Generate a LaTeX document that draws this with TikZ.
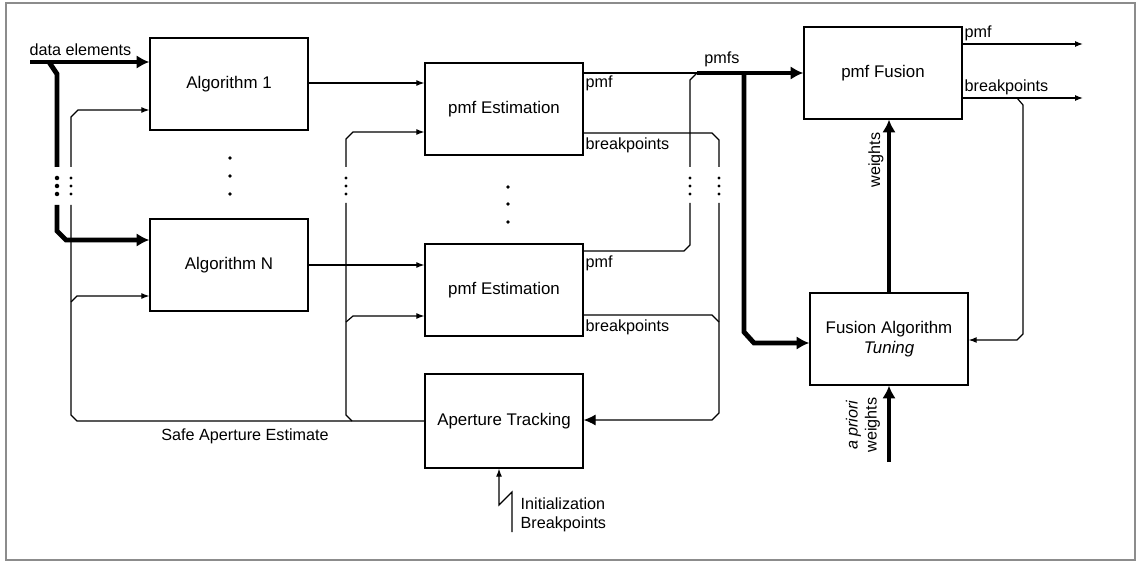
\documentclass[tikz,border=0pt]{standalone}
\usepackage{fontspec}
\setmainfont{Liberation Sans}
\usetikzlibrary{arrows.meta,calc}
\tikzset{
blk/.style={draw=black,line width=0.9pt,minimum width=3.95cm,minimum height=2.3cm,inner sep=2pt,align=center,font=\fontsize{12}{14.5}\selectfont},
sig/.style={draw=black,line width=0.85pt},
sigarr/.style={sig,-{Latex[length=2mm,width=1.5mm]}},
bigarr/.style={sig,-{Latex[length=3mm,width=2.8mm]}},
bus/.style={draw=black,line width=3.5pt},
busarr/.style={bus,-{Latex[length=3.2mm,width=3.4mm]}},
lbl/.style={font=\fontsize{11.5}{13.5}\selectfont,inner sep=1pt},
frame/.style={draw=black!45,line width=1pt}
}
\newcommand{\gapdots}[2]{\foreach \yy in {178,186,194} \fill (#1,\yy) circle (#2);}

\begin{document}
\begin{tikzpicture}[x=0.025cm,y=-0.025cm]
\useasboundingbox (0,0) rectangle (1141,563);
\draw[frame] (6,3) rectangle (1135,560);

% blocks
\node[blk] (alg1) at (229,84) {Algorithm 1};
\node[blk] (algN) at (229,265) {Algorithm N};
\node[blk] (est1) at (504,109) {pmf Estimation};
\node[blk] (est2) at (504,290) {pmf Estimation};
\node[blk,minimum height=2.35cm] (track) at (504,421) {Aperture Tracking};
\node[blk] (fusion) at (883,73) {pmf Fusion};
\node[blk] (tuning) at (889,339) {Fusion Algorithm\\\textit{Tuning}};

% data elements bus
\coordinate (din) at (30,62);
\node[lbl,anchor=west] (dlab) at (28,50) {data elements};
\draw[busarr] (din) -- (din -| alg1.west);
\draw[bus] (49,62) -- (57,74) -- (57,167);
\draw[busarr] (57,205) -- (57,231) -- (66,240) -- (algN.west |- 0,240);
\gapdots{57}{1.6pt}

% safe aperture estimate feedback
\draw[sig] (track.west) -- (77,421) -- (71,415) -- (71,205);
\draw[sigarr] (71,167) -- (71,117) -- (78,110) -- (alg1.west |- 0,110);
\draw[sigarr] (71,302) -- (77,296) -- (algN.west |- 0,296);
\gapdots{71}{1.2pt}
\draw[sig] (352,421) -- (346,415) -- (346,203);
\draw[sigarr] (346,167) -- (346,139) -- (353,132) -- (est1.west |- 0,132);
\draw[sigarr] (346,322) -- (353,316) -- (est2.west |- 0,316);
\gapdots{346}{1.2pt}
\node[lbl] (safe) at (245,436) {Safe Aperture Estimate};

% algorithms to estimators
\draw[sigarr] (alg1.east |- 0,83) -- (est1.west |- 0,83);
\draw[sigarr] (algN.east |- 0,265) -- (est2.west |- 0,265);
\foreach \yy in {158,176,194} \fill (230,\yy) circle (1.4pt);
\foreach \yy in {187,204,222} \fill (508,\yy) circle (1.4pt);

% pmf outputs
\draw[sig] (est1.east |- 0,73) -- (697,73);
\draw[sig] (est2.east |- 0,251) -- (684,251) -- (690,245) -- (690,203);
\draw[sig] (690,167) -- (690,80) -- (697,73);
\gapdots{690}{1.2pt}
\node[lbl,anchor=west] (p1) at (584,83) {pmf};
\node[lbl,anchor=west] (p2) at (584,263) {pmf};

% breakpoints outputs
\draw[sig] (est1.east |- 0,133) -- (712,133) -- (719,140) -- (719,167);
\draw[sig] (est2.east |- 0,315) -- (712,315) -- (719,322);
\draw[bigarr] (719,203) -- (719,413) -- (712,420) -- (track.east |- 0,420);
\gapdots{719}{1.2pt}
\node[lbl,anchor=west] (b1) at (584,145) {breakpoints};
\node[lbl,anchor=west] (b2) at (584,327) {breakpoints};

% pmfs bus
\draw[busarr] (697,73) -- (fusion.west);
\draw[busarr] (744,73) -- (744,332) -- (754,343) -- (tuning.west |- 0,343);
\node[lbl] (pmfs) at (722,59) {pmfs};

% weights
\draw[busarr] (tuning.north) -- (tuning.north |- fusion.south);
\node[lbl,rotate=90] (wlab) at (876,160) {weights};
\coordinate (apri) at (889,462);
\draw[busarr] (apri) -- (tuning.south);
\node[lbl,rotate=90,align=center] (aplab) at (863,425) {\textit{a priori}\\weights};

% fusion outputs
\coordinate (outp) at (1083,44);
\coordinate (outb) at (1083,98);
\draw[sigarr] (fusion.east |- outp) -- (outp);
\draw[sigarr] (fusion.east |- outb) -- (outb);
\node[lbl,anchor=west] (fp) at (963,33) {pmf};
\node[lbl,anchor=west] (fb) at (963,87) {breakpoints};
\draw[sigarr] (1017,98) -- (1023,105) -- (1023,334) -- (1017,340) -- (tuning.east |- 0,340);

% initialization breakpoints
\coordinate (init) at (512,532);
\draw[sigarr] (init) -- (512,492) -- (499,505) -- (track.south -| 499,0);
\node[lbl,anchor=west,align=left] (ilab) at (519,515) {Initialization\\Breakpoints};
\end{tikzpicture}
\end{document}
